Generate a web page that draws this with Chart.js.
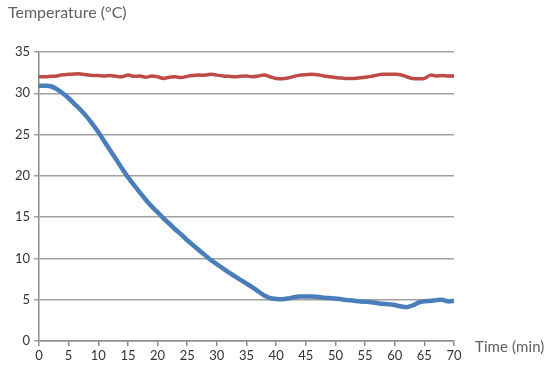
<!DOCTYPE html>
<html>
<head>
<meta charset="utf-8">
<script src="https://cdn.jsdelivr.net/npm/chart.js@4/dist/chart.umd.min.js"></script>
<style>
  html, body { margin: 0; padding: 0; background: #fff; }
  #wrap { position: relative; width: 545px; height: 368px; overflow: hidden; }
  canvas { position: absolute; left: 0; top: 0; }
  .lbl { position: absolute; font-family: "Lato", "Open Sans", sans-serif; color: #606060; white-space: nowrap; }
  #ytitle { left: 8px; top: 2px; font-size: 16px; }
  #xtitle { left: 475px; top: 337px; font-size: 15px; letter-spacing: 0.1px; }
</style>
</head>
<body>
<div id="wrap">
  <canvas id="c" width="545" height="368"></canvas>
  <div class="lbl" id="ytitle">Temperature (°C)</div>
  <div class="lbl" id="xtitle">Time (min)</div>
</div>
<script>
const minutes = [0,1,2,3,4,5,6,7,8,9,10,11,12,13,14,15,16,17,18,19,20,21,22,23,24,25,26,27,28,29,30,31,32,33,34,35,36,37,38,39,40,41,42,43,44,45,46,47,48,49,50,51,52,53,54,55,56,57,58,59,60,61,62,63,64,65,66,67,68,69,70];
const sampleTemp = [30.9,30.9,30.85,30.5,30.0,29.4,28.7,28.0,27.2,26.3,25.3,24.2,23.1,22.0,20.9,19.85,18.9,18.0,17.1,16.3,15.6,14.85,14.2,13.5,12.9,12.2,11.6,11.0,10.4,9.8,9.3,8.8,8.3,7.85,7.4,6.95,6.5,6.0,5.5,5.2,5.1,5.05,5.15,5.3,5.4,5.4,5.4,5.35,5.25,5.2,5.15,5.05,4.95,4.9,4.8,4.75,4.7,4.6,4.5,4.45,4.35,4.2,4.1,4.3,4.65,4.8,4.85,4.95,5.0,4.8,4.85];
const bathTemp = [32.0,32.0,32.05,32.1,32.25,32.3,32.35,32.35,32.25,32.15,32.15,32.1,32.15,32.05,32.0,32.2,32.05,32.1,31.95,32.1,32.0,31.8,31.95,32.0,31.9,32.05,32.15,32.2,32.2,32.3,32.2,32.1,32.05,32.0,32.05,32.1,32.0,32.1,32.2,32.0,31.8,31.75,31.85,32.05,32.2,32.25,32.3,32.25,32.1,32.0,31.9,31.85,31.8,31.8,31.85,31.95,32.05,32.2,32.3,32.3,32.3,32.25,32.0,31.8,31.75,31.8,32.2,32.1,32.15,32.1,32.1];
const yTicks = [0,5,10,15,20,25,30,35];
const xTicks = [0,5,10,15,20,25,30,35,40,45,50,55,60,65,70];

const toXY = (ys) => minutes.map((m, i) => ({ x: m, y: ys[i] }));

new Chart(document.getElementById('c'), {
  type: 'line',
  data: {
    datasets: [
      { data: toXY(bathTemp), borderColor: '#be4b48', borderWidth: 3.5, pointRadius: 0, tension: 0.3, fill: false },
      { data: toXY(sampleTemp), borderColor: '#4a7ebb', borderWidth: 4.5, pointRadius: 0, tension: 0.2, fill: false }
    ]
  },
  options: {
    responsive: false,
    animation: false,
    events: [],
    layout: { padding: { top: 52, right: 91, left: 0, bottom: 0 } },
    plugins: { legend: { display: false }, tooltip: { enabled: false } },
    scales: {
      x: {
        type: 'linear', min: 0, max: 70,
        afterBuildTicks: (s) => { s.ticks = xTicks.map(v => ({ value: v })); },
        afterFit: (s) => { s.height = 27; },
        grid: { drawOnChartArea: false, drawTicks: true, tickLength: 5, color: '#8c8c8c', lineWidth: 1.5 },
        border: { display: true, color: '#8c8c8c', width: 1.5 },
        ticks: { color: '#333', font: { family: 'Lato, "Open Sans", sans-serif', size: 13 }, padding: 2, maxRotation: 0 }
      },
      y: {
        min: 0, max: 35,
        afterBuildTicks: (s) => { s.ticks = yTicks.map(v => ({ value: v })); },
        afterFit: (s) => { s.width = 39; },
        grid: { drawOnChartArea: true, drawTicks: true, tickLength: 5, color: '#a0a0a0', lineWidth: 1.5 },
        border: { display: true, color: '#8c8c8c', width: 1.5 },
        ticks: { color: '#333', font: { family: 'Lato, "Open Sans", sans-serif', size: 13 }, padding: 4 }
      }
    }
  }
});
</script>
</body>
</html>
